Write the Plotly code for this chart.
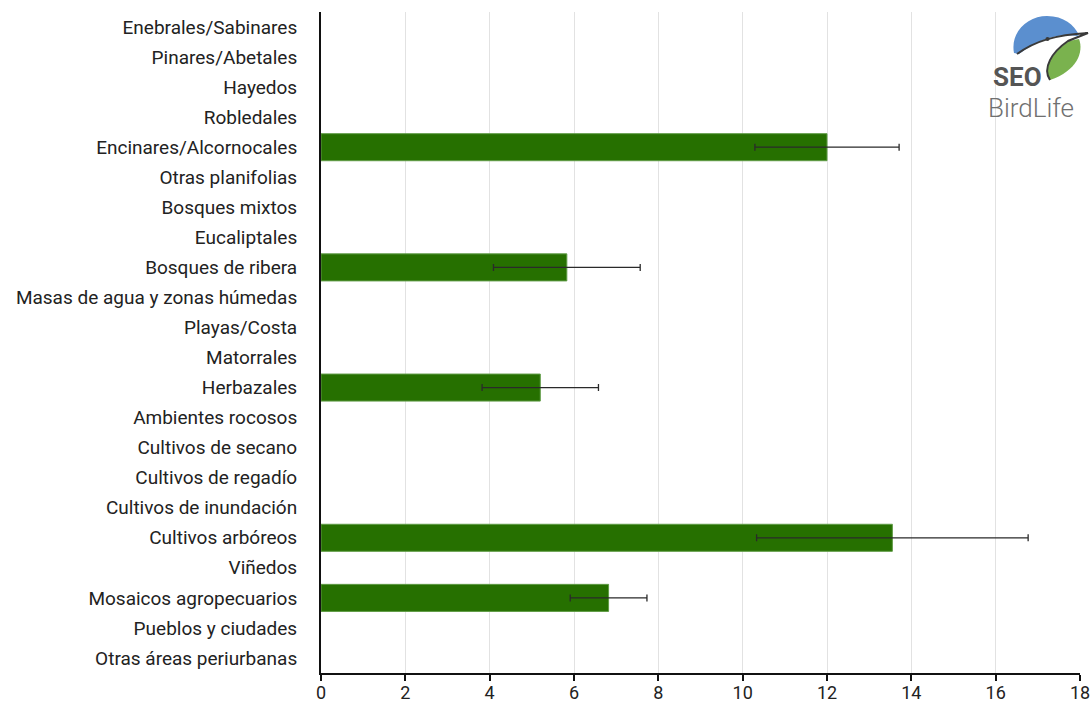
import plotly.graph_objects as go

# Habitat categories, top to bottom
habitats = [
    "Enebrales/Sabinares", "Pinares/Abetales", "Hayedos", "Robledales",
    "Encinares/Alcornocales", "Otras planifolias", "Bosques mixtos", "Eucaliptales",
    "Bosques de ribera", "Masas de agua y zonas húmedas", "Playas/Costa", "Matorrales",
    "Herbazales", "Ambientes rocosos", "Cultivos de secano", "Cultivos de regadío",
    "Cultivos de inundación", "Cultivos arbóreos", "Viñedos", "Mosaicos agropecuarios",
    "Pueblos y ciudades", "Otras áreas periurbanas",
]
# Mean value per habitat (None = no data) and the error half-width
values = [None, None, None, None, 12.0, None, None, None, 5.83, None, None, None,
          5.2, None, None, None, None, 13.55, None, 6.82, None, None]
errors = [None, None, None, None, 1.71, None, None, None, 1.74, None, None, None,
          1.38, None, None, None, None, 3.22, None, 0.91, None, None]
x_ticks = [0, 2, 4, 6, 8, 10, 12, 14, 16, 18]

W, H = 1092, 705
L, R, T, B = 321, 12, 12, 32

fig = go.Figure()
fig.add_trace(go.Bar(
    x=values, y=habitats, orientation="h",
    marker=dict(color="#267000", line=dict(color="#5f9b45", width=1)),
    error_x=dict(type="data", array=errors, visible=True,
                 color="#2a2a2a", thickness=1.3, width=3.5),
    hoverinfo="x+y",
))

# Logo helpers: pixel position -> paper coordinates of the plot area
pw, ph = W - L - R, H - T - B
def px(x):
    return (x - L) / pw
def py(y):
    return (H - B - y) / ph
def path(cmds):
    out = []
    for c in cmds:
        if isinstance(c, str):
            out.append(c)
        else:
            out.append(f"{px(c[0]):.5f},{py(c[1]):.5f}")
    return " ".join(out)

shapes = []
# blue sky cap of the round emblem
shapes.append(dict(
    type="path", xref="paper", yref="paper", layer="above",
    path=path(["M", (1014, 53), "C", (1010, 32), (1028, 16), (1047, 16),
               "C", (1064, 16), (1074, 25), (1079, 35),
               "L", (1077, 36), "C", (1060, 33), (1040, 38), (1019, 54), "Z"]),
    fillcolor="#5b8fcf", line=dict(width=0),
))
# green leaf
shapes.append(dict(
    type="path", xref="paper", yref="paper", layer="above",
    path=path(["M", (1050, 80), "C", (1042, 70), (1052, 52), (1069, 41),
               "L", (1079, 39), "C", (1084, 52), (1077, 71), (1050, 80), "Z"]),
    fillcolor="#7ab24e", line=dict(width=0),
))
# bird outline: back, beak and throat
shapes.append(dict(
    type="path", xref="paper", yref="paper", layer="above",
    path=path(["M", (1017, 54), "C", (1035, 41), (1055, 35), (1088, 33),
               "L", (1068, 41), "C", (1052, 52), (1042, 68), (1050, 80)]),
    fillcolor="rgba(0,0,0,0)", line=dict(color="#3a3a3a", width=2),
))
# eye
shapes.append(dict(
    type="circle", xref="paper", yref="paper", layer="above",
    x0=px(1045.5), x1=px(1049.5), y0=py(41), y1=py(37),
    fillcolor="#3a3a3a", line=dict(width=0),
))

annotations = [
    dict(text="<b>SEO</b>", xref="paper", yref="paper", x=px(991), y=py(77),
         xanchor="left", yanchor="middle", showarrow=False,
         font=dict(family="Roboto", size=26, color="#555555")),
    dict(text="BirdLife", xref="paper", yref="paper", x=px(986), y=py(108),
         xanchor="left", yanchor="middle", showarrow=False,
         font=dict(family="Roboto", size=26, color="#707070", weight=300)),
]

fig.update_layout(
    width=W, height=H,
    margin=dict(l=L, r=R, t=T, b=B, pad=0, autoexpand=False),
    paper_bgcolor="white", plot_bgcolor="white",
    bargap=0.1, showlegend=False,
    font=dict(family="Roboto", size=19, color="#222222"),
    shapes=shapes, annotations=annotations,
)
fig.update_xaxes(
    range=[0, 18], tickvals=x_ticks, ticktext=[str(v) for v in x_ticks],
    showgrid=True, gridcolor="#e2e2e2", gridwidth=1,
    showline=True, linecolor="#111111", linewidth=2,
    ticks="outside", ticklen=6, tickcolor="#111111", tickwidth=1.5,
    tickfont=dict(family="Roboto", size=18, color="#222222"),
    ticklabeloverflow="allow", ticklabelstandoff=-4,
    zeroline=False, fixedrange=True, automargin=False,
)
fig.update_yaxes(
    categoryorder="array", categoryarray=habitats, autorange="reversed",
    showline=True, linecolor="#111111", linewidth=2,
    showgrid=False, ticks="", ticklabelstandoff=18,
    tickfont=dict(family="Roboto", size=19, color="#222222"),
    fixedrange=True, automargin=False,
)

fig.write_html("out.html")
